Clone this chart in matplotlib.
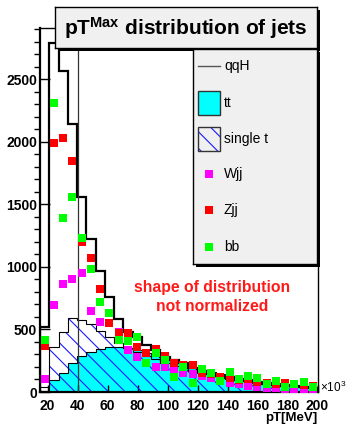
import numpy as np
import matplotlib
matplotlib.use('Agg')
import matplotlib.pyplot as plt
from matplotlib.patches import Rectangle

plt.rcParams['font.family'] = ['Liberation Sans', 'DejaVu Sans']
plt.rcParams['mathtext.fontset'] = 'custom'
plt.rcParams['mathtext.rm'] = 'Liberation Sans'
plt.rcParams['mathtext.bf'] = 'Liberation Sans:bold'
plt.rcParams['hatch.linewidth'] = 0.8

##### binning (GeV, axis labelled in MeV x 10^3)
pt_lo, pt_hi, n_bins = 15.0, 200.0, 30
edges = np.linspace(pt_lo, pt_hi, n_bins + 1)
centers = 0.5 * (edges[:-1] + edges[1:])
pt_cut = 40

##### histograms
qqH = [520, 2790, 2570, 2140, 1557, 1222, 966, 758, 585, 480,
       440, 375, 335, 280, 255, 230, 195, 165, 140, 125,
       110, 95, 85, 75, 65, 55, 50, 45, 40, 35]
tt = [10, 95, 150, 235, 290, 320, 345, 360, 360, 350,
      335, 310, 290, 265, 240, 215, 195, 175, 160, 145,
      130, 115, 100, 90, 80, 70, 60, 50, 45, 40]
single_t = [40, 360, 480, 590, 575, 540, 490, 440, 390, 350,
            320, 290, 260, 235, 210, 190, 170, 150, 135, 120,
            105, 95, 85, 75, 65, 58, 50, 45, 40, 35]

##### marker samples
Wjj = [100, 695, 860, 900, 950, 650, 560, 550, 480, 335,
       280, 230, 200, 200, 175, 150, 140, 125, 110, 100,
       70, 60, 50, 40, 35, 30, 25, 20, 15, 10]
Zjj = [370, 1990, 2030, 1845, 1200, 1075, 820, 550, 470, 470,
       360, 310, 340, 290, 230, 215, 215, 150, 140, 120,
       110, 95, 100, 80, 70, 65, 70, 60, 55, 50]
bb = [415, 2307, 1390, 1555, 1235, 980, 720, 633, 415, 405,
      440, 230, 310, 255, 120, 200, 70, 180, 150, 90,
      160, 100, 130, 110, 60, 90, 40, 60, 80, 40]

x_ticks = [20, 40, 60, 80, 100, 120, 140, 160, 180, 200]
y_ticks = [0, 500, 1000, 1500, 2000, 2500]

W, H = 346, 429
fig = plt.figure(figsize=(W / 100, H / 100), dpi=100)
fig.patch.set_facecolor('white')

ax = fig.add_axes([40 / W, 1 - 392 / H, 277.5 / W, 364 / H])
ax.set_zorder(0)
ax.set_xlim(pt_lo, pt_hi)
ax.set_ylim(0, 2910)

ax.stairs(tt, edges, fill=True, facecolor='#00ffff', edgecolor='none', zorder=1)
ax.stairs(single_t, edges, fill=True, facecolor='none', edgecolor='#1a1aff',
          hatch='\\\\', linewidth=0, zorder=2)
ax.stairs(tt, edges, color='black', linewidth=0.8, baseline=None, zorder=3)
ax.stairs(single_t, edges, color='black', linewidth=0.8, baseline=None, zorder=3)
ax.stairs(qqH, edges, color='black', linewidth=1.6, zorder=4)
ax.axvline(pt_cut, color='#333333', linewidth=0.9, zorder=4)

ms = 6.0
ax.plot(centers, Wjj, 's', color='#ff00ff', markersize=ms, markeredgewidth=0, zorder=5)
ax.plot(centers, Zjj, 's', color='#ff0000', markersize=ms, markeredgewidth=0, zorder=6)
ax.plot(centers, bb, 's', color='#00ff00', markersize=ms, markeredgewidth=0, zorder=7)

ax.set_xticks(x_ticks)
ax.set_yticks(y_ticks)
ax.set_yticks(np.arange(0, 2901, 100), minor=True)
ax.tick_params(axis='both', direction='in', labelsize=10, width=1)
ax.tick_params(axis='y', which='major', length=7, pad=2)
ax.tick_params(axis='y', which='minor', length=4, width=1)
ax.tick_params(axis='x', which='major', length=5, pad=5)
for lab in ax.get_xticklabels() + ax.get_yticklabels():
    lab.set_fontweight('bold')
for sp in ax.spines.values():
    sp.set_linewidth(1.0)
ax.spines['left'].set_linewidth(1.6)
ax.spines['bottom'].set_linewidth(1.6)

ax.text(1.0, -0.072, 'pT[MeV]', transform=ax.transAxes, ha='right', va='center',
        fontsize=9.5, fontweight='bold')
ax.text(1.008, 0.012, r'$\times10^{3}$', transform=ax.transAxes, ha='left', va='center',
        fontsize=8.5)
ax.text(0.62, 0.262, 'shape of distribution\nnot normalized', transform=ax.transAxes,
        ha='center', va='center', color='#ff1a1a', fontsize=11.3, fontweight='bold',
        linespacing=1.35)

# title box with shadow on the right
fig.patches.append(Rectangle((58 / W, 1 - 51 / H), 262 / W, 41 / H,
                             transform=fig.transFigure, facecolor='black', zorder=5))
tax = fig.add_axes([55 / W, 1 - 48 / H, 262 / W, 41 / H])
tax.set_zorder(10)
tax.set_facecolor('#f0f0f0')
tax.set_xticks([])
tax.set_yticks([])
for sp in tax.spines.values():
    sp.set_linewidth(1.0)
tax.text(0.5, 0.48, r'$\mathbf{pT^{Max}}$ distribution of jets', ha='center', va='center',
         fontsize=15, fontweight='bold', transform=tax.transAxes)

# legend box with shadow
fig.patches.append(Rectangle((196 / W, 1 - 267 / H), 124 / W, 215 / H,
                             transform=fig.transFigure, facecolor='black', zorder=5))
lax = fig.add_axes([193 / W, 1 - 264 / H, 124 / W, 215 / H])
lax.set_zorder(11)
lax.set_facecolor('#f0f0f0')
lax.set_xlim(0, 124)
lax.set_ylim(215, 0)
lax.set_xticks([])
lax.set_yticks([])
for sp in lax.spines.values():
    sp.set_linewidth(1.0)

entries = ['qqH', 'tt', 'single t', 'Wjj', 'Zjj', 'bb']
rows = [17, 54, 90, 125, 161, 198]
lax.plot([5, 27], [rows[0], rows[0]], color='#555555', linewidth=1.0)
lax.add_patch(Rectangle((5, rows[1] - 12), 22, 24, facecolor='#00ffff',
                        edgecolor='#333333', linewidth=1.0))
lax.add_patch(Rectangle((5, rows[2] - 12), 22, 24, facecolor='none',
                        edgecolor='#1a1aff', hatch='\\\\', linewidth=0))
lax.add_patch(Rectangle((5, rows[2] - 12), 22, 24, facecolor='none',
                        edgecolor='#333333', linewidth=1.0))
for r, c in zip(rows[3:], ['#ff00ff', '#ff0000', '#00ff00']):
    lax.plot([15.5], [r], 's', color=c, markersize=ms, markeredgewidth=0)
for r, name in zip(rows, entries):
    lax.text(31, r, name, ha='left', va='center', fontsize=10)

fig.savefig('out.png', dpi=100)
